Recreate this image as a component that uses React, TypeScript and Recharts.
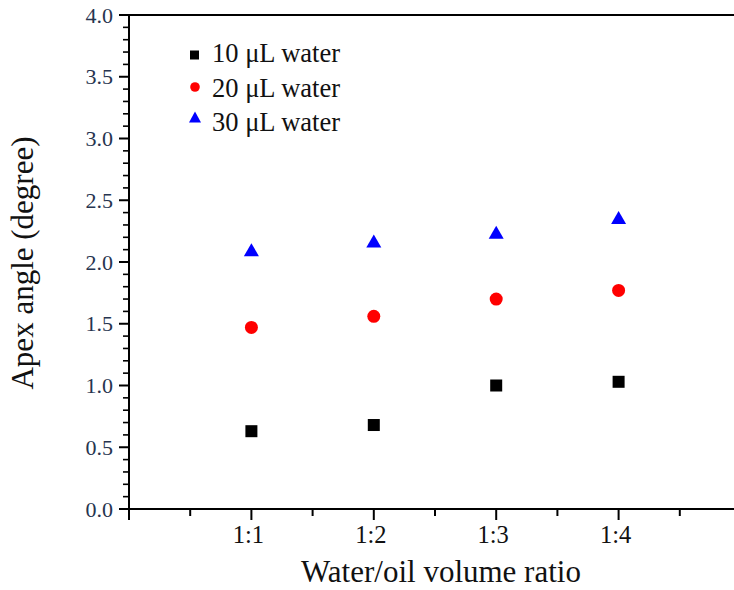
import React from 'react';
import { ScatterChart, Scatter, XAxis, YAxis, Legend } from 'recharts';

// water/oil ratio categories, placed at 1..4 on a numeric axis
const ratioLabels = ['1:1', '1:2', '1:3', '1:4'];
const ratioPositions = [1, 2, 3, 4];

// apex angle (degree)
const water10 = [0.63, 0.68, 1.0, 1.03];
const water20 = [1.47, 1.56, 1.7, 1.77];
const water30 = [2.1, 2.17, 2.24, 2.36];

const seriesNames = ['10 \u03bcL water', '20 \u03bcL water', '30 \u03bcL water'];
const seriesColors = ['#000000', '#ff0000', '#0000ff'];

const xTicks = [0, 0.5, 1, 1.5, 2, 2.5, 3, 3.5, 4, 4.5, 5];
const yTicks = Array.from({ length: 41 }, (_, i) => i / 10);

const FONT = '"Liberation Serif", "Times New Roman", serif';

const toPoints = (values: number[]) =>
  ratioPositions.map((x, i) => ({ x, y: values[i] }));

const isHalf = (v: number) => Math.abs(v * 2 - Math.round(v * 2)) < 1e-6;
const isWhole = (v: number) => Math.abs(v - Math.round(v)) < 1e-6;

const LeftTick = (props: any) => {
  const { x, y, payload } = props;
  const v = payload.value;
  const major = isHalf(v);
  return (
    <g>
      <line x1={x - (major ? 10 : 6)} x2={x} y1={y} y2={y} stroke="#000" strokeWidth={major ? 2 : 1.6} />
      {major && (
        <text x={x - 16} y={y} dy="0.35em" textAnchor="end" fontSize={22} fontFamily={FONT} fill="#26344f">
          {v.toFixed(1)}
        </text>
      )}
    </g>
  );
};

const RightTick = (props: any) => {
  const { x, y, payload } = props;
  const major = isHalf(payload.value);
  return <line x1={x - (major ? 9 : 5)} x2={x} y1={y} y2={y} stroke="#000" strokeWidth={major ? 2 : 1.6} />;
};

const BottomTick = (props: any) => {
  const { x, y, payload } = props;
  const v = payload.value;
  const major = isWhole(v);
  const idx = ratioPositions.indexOf(Math.round(v));
  return (
    <g>
      <line x1={x} x2={x} y1={y} y2={y + (major ? 11 : 7)} stroke="#000" strokeWidth={2} />
      {major && idx >= 0 && (
        <text x={x - 3} y={y + 34} textAnchor="middle" fontSize={24.5} fontFamily={FONT} fill="#111">
          {ratioLabels[idx]}
        </text>
      )}
    </g>
  );
};

const TopTick = (props: any) => {
  const { x, y, payload } = props;
  const major = isWhole(payload.value);
  return <line x1={x} x2={x} y1={y} y2={y + (major ? 10 : 6)} stroke="#000" strokeWidth={2} />;
};

const SquareDot = (props: any) => (
  <rect x={props.cx - 6} y={props.cy - 6} width={12} height={12} fill={seriesColors[0]} />
);
const CircleDot = (props: any) => <circle cx={props.cx} cy={props.cy} r={6.5} fill={seriesColors[1]} />;
const TriangleDot = (props: any) => (
  <polygon
    points={`${props.cx - 7.5},${props.cy + 6.5} ${props.cx + 7.5},${props.cy + 6.5} ${props.cx},${props.cy - 6.5}`}
    fill={seriesColors[2]}
  />
);

const renderLegend = () => (
  <svg width={220} height={110} style={{ display: 'block' }}>
    {seriesNames.map((name, i) => {
      const cy = [20, 52, 82][i];
      const base = [27, 62, 96][i];
      let marker;
      if (i === 0) marker = <rect x={10} y={cy - 4.5} width={9} height={9} fill={seriesColors[0]} />;
      else if (i === 1) marker = <circle cx={15} cy={cy} r={4.8} fill={seriesColors[1]} />;
      else marker = <polygon points={`9,${cy + 5.5} 21,${cy + 5.5} 15,${cy - 5.5}`} fill={seriesColors[2]} />;
      return (
        <g key={name}>
          {marker}
          <text x={32} y={base} fontSize={26.5} fontFamily={FONT} fill="#111">
            {name}
          </text>
        </g>
      );
    })}
  </svg>
);

export default function App() {
  const axisLine = { stroke: '#000', strokeWidth: 2 };
  return (
    <div
      style={{
        position: 'absolute',
        left: 0,
        top: 0,
        width: 734,
        height: 590,
        overflow: 'hidden',
        background: '#fff',
      }}
    >
      <ScatterChart width={760} height={590} margin={{ top: 0, right: 0, bottom: 0, left: 0 }}>
        <XAxis
          xAxisId="bottom"
          type="number"
          dataKey="x"
          domain={[0, 5]}
          ticks={xTicks}
          interval={0}
          tickSize={0}
          tickMargin={0}
          tickLine={false}
          tick={BottomTick}
          height={81}
          axisLine={axisLine}
          label={{
            value: 'Water/oil volume ratio',
            position: 'insideBottom',
            offset: 8,
            dx: 6,
            fontSize: 31,
            fontFamily: FONT,
            fill: '#111',
          }}
        />
        <XAxis
          xAxisId="top"
          orientation="top"
          type="number"
          domain={[0, 5]}
          ticks={xTicks}
          interval={0}
          tickSize={0}
          tickMargin={0}
          tickLine={false}
          tick={TopTick}
          height={15}
          axisLine={axisLine}
        />
        <YAxis
          yAxisId="left"
          type="number"
          dataKey="y"
          domain={[0, 4]}
          ticks={yTicks}
          interval={0}
          tickSize={0}
          tickMargin={0}
          tickLine={false}
          tick={LeftTick}
          width={129}
          axisLine={axisLine}
          label={{
            value: 'Apex angle (degree)',
            angle: -90,
            position: 'insideLeft',
            offset: 22,
            dy: 1,
            fontSize: 31,
            fontFamily: FONT,
            fill: '#111',
            style: { textAnchor: 'middle' },
          }}
        />
        <YAxis
          yAxisId="right"
          orientation="right"
          type="number"
          domain={[0, 4]}
          ticks={yTicks}
          interval={0}
          tickSize={0}
          tickMargin={0}
          tickLine={false}
          tick={RightTick}
          width={19}
          axisLine={axisLine}
        />
        <Legend
          layout="vertical"
          align="center"
          verticalAlign="middle"
          content={renderLegend}
          wrapperStyle={{ position: 'absolute', left: 180, top: 35, width: 220, height: 110 }}
        />
        <Scatter
          name={seriesNames[0]}
          data={toPoints(water10)}
          xAxisId="bottom"
          yAxisId="left"
          fill={seriesColors[0]}
          shape={SquareDot}
          isAnimationActive={false}
        />
        <Scatter
          name={seriesNames[1]}
          data={toPoints(water20)}
          xAxisId="bottom"
          yAxisId="left"
          fill={seriesColors[1]}
          shape={CircleDot}
          isAnimationActive={false}
        />
        <Scatter
          name={seriesNames[2]}
          data={toPoints(water30)}
          xAxisId="bottom"
          yAxisId="left"
          fill={seriesColors[2]}
          shape={TriangleDot}
          isAnimationActive={false}
        />
      </ScatterChart>
    </div>
  );
}
